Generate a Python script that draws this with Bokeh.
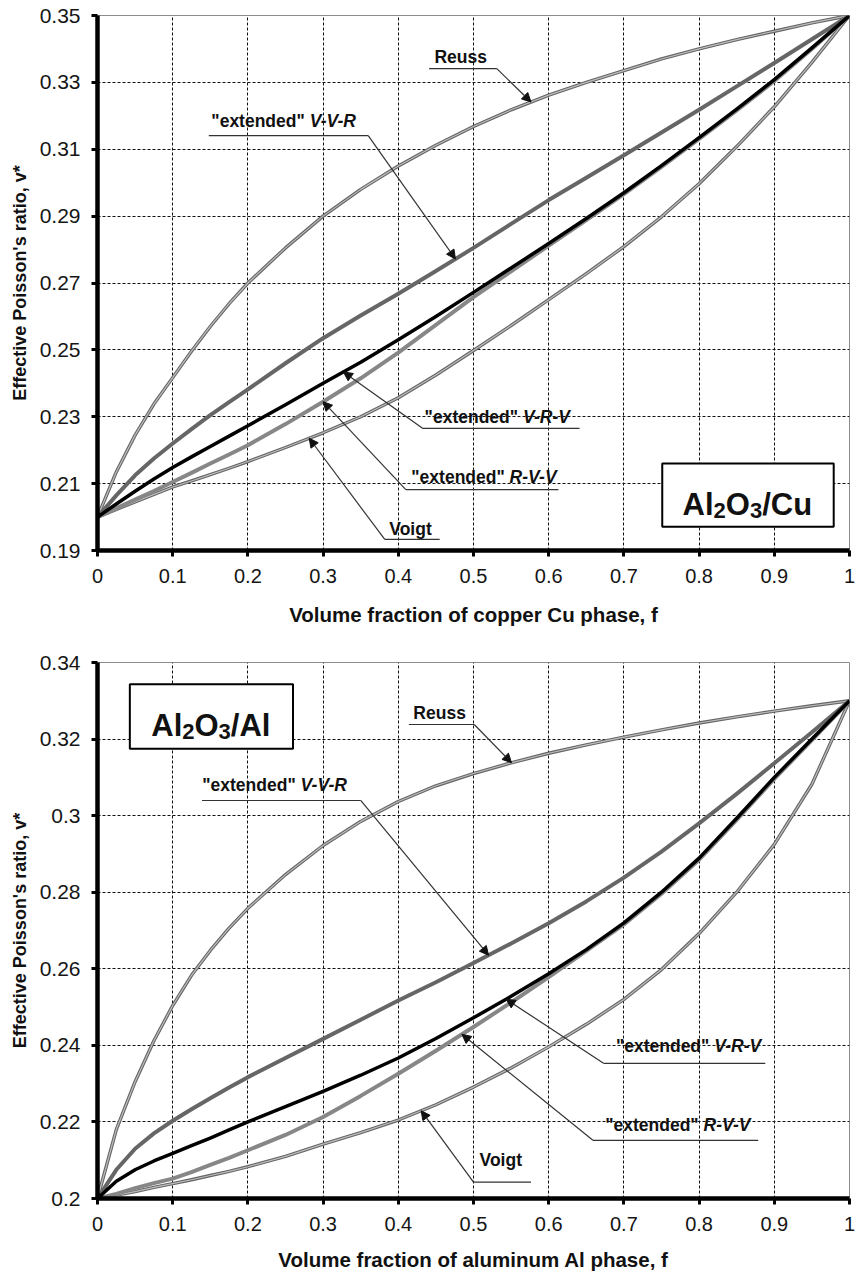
import numpy as np
from bokeh.plotting import figure
from bokeh.layouts import column
from bokeh.models import Label, Arrow, NormalHead, BoxAnnotation, FixedTicker, Range1d
from bokeh.embed import file_html
from bokeh.resources import INLINE

# ---------------- data ----------------
f = [0, 0.025, 0.05, 0.075, 0.1, 0.125, 0.15, 0.175, 0.2, 0.25, 0.3, 0.35, 0.4, 0.45, 0.5,
     0.55, 0.6, 0.65, 0.7, 0.75, 0.8, 0.85, 0.9, 0.95, 1.0]

# Al2O3/Cu
reuss_cu = [0.200, 0.2135, 0.2245, 0.2338, 0.2417, 0.2496, 0.2570, 0.2638, 0.2700, 0.2805, 0.2900, 0.2980,
            0.3050, 0.3112, 0.3168, 0.3218, 0.3262, 0.3300, 0.3335, 0.3370, 0.3400, 0.3428, 0.3453,
            0.3478, 0.3500]
vvr_cu = [0.200, 0.2065, 0.2125, 0.2175, 0.2220, 0.2263, 0.2305, 0.2344, 0.2382, 0.2460, 0.2535, 0.2603,
          0.2668, 0.2736, 0.2805, 0.2877, 0.2948, 0.3015, 0.3082, 0.3150, 0.3218, 0.3288, 0.3358,
          0.3429, 0.3500]
vrv_cu = [0.200, 0.2039, 0.2077, 0.2114, 0.2148, 0.2180, 0.2211, 0.2242, 0.2273, 0.2336, 0.2400, 0.2463,
          0.2530, 0.2600, 0.2672, 0.2745, 0.2818, 0.2893, 0.2970, 0.3051, 0.3135, 0.3220, 0.3308,
          0.3403, 0.3500]
rvv_cu = [0.200, 0.2026, 0.2052, 0.2078, 0.2105, 0.2132, 0.2160, 0.2187, 0.2215, 0.2278, 0.2345, 0.2415,
          0.2492, 0.2575, 0.2658, 0.2735, 0.2812, 0.2888, 0.2966, 0.3047, 0.3131, 0.3216, 0.3304,
          0.3400, 0.3500]
voigt_cu = [0.200, 0.2023, 0.2045, 0.2068, 0.2090, 0.2108, 0.2127, 0.2146, 0.2166, 0.2208, 0.2252, 0.2300,
            0.2357, 0.2425, 0.2498, 0.2573, 0.2650, 0.2728, 0.2809, 0.2898, 0.2997, 0.3108, 0.3227,
            0.3360, 0.3500]

# Al2O3/Al
reuss_al = [0.200, 0.2180, 0.2305, 0.2412, 0.2504, 0.2583, 0.2648, 0.2706, 0.2758, 0.2846, 0.2922, 0.2985,
            0.3037, 0.3078, 0.3110, 0.3138, 0.3163, 0.3185, 0.3205, 0.3224, 0.3242, 0.3258, 0.3273,
            0.3287, 0.3300]
vvr_al = [0.200, 0.2075, 0.2130, 0.2170, 0.2203, 0.2233, 0.2262, 0.2290, 0.2317, 0.2367, 0.2417, 0.2467,
          0.2517, 0.2565, 0.2615, 0.2666, 0.2719, 0.2776, 0.2838, 0.2906, 0.2980, 0.3057, 0.3137,
          0.3218, 0.3300]
vrv_al = [0.200, 0.2045, 0.2075, 0.2098, 0.2118, 0.2138, 0.2158, 0.2179, 0.2200, 0.2240, 0.2280, 0.2322,
          0.2367, 0.2418, 0.2472, 0.2528, 0.2587, 0.2650, 0.2720, 0.2800, 0.2889, 0.2993, 0.3100,
          0.3200, 0.3300]
rvv_al = [0.200, 0.2012, 0.2027, 0.2040, 0.2052, 0.2069, 0.2088, 0.2106, 0.2126, 0.2166, 0.2213, 0.2268,
          0.2326, 0.2386, 0.2448, 0.2512, 0.2578, 0.2647, 0.2716, 0.2796, 0.2885, 0.2989, 0.3096,
          0.3197, 0.3300]
voigt_al = [0.200, 0.2009, 0.2018, 0.2029, 0.2039, 0.2049, 0.2060, 0.2071, 0.2083, 0.2110, 0.2142, 0.2172,
            0.2205, 0.2245, 0.2291, 0.2341, 0.2396, 0.2455, 0.2520, 0.2598, 0.2692, 0.2800, 0.2925,
            0.3082, 0.3300]

x_tick_labels = ["0", "0.1", "0.2", "0.3", "0.4", "0.5", "0.6", "0.7", "0.8", "0.9", "1"]
y_tick_labels_cu = ["0.19", "0.21", "0.23", "0.25", "0.27", "0.29", "0.31", "0.33", "0.35"]
y_tick_labels_al = ["0.2", "0.22", "0.24", "0.26", "0.28", "0.3", "0.32", "0.34"]

x_title_cu = "Volume fraction of copper Cu phase, f"
x_title_al = "Volume fraction of aluminum Al phase, f"
y_title = "Effective Poisson's ratio, v*"

# ---------------- styling helpers ----------------
FONT = "Liberation Sans"
BOLD_W = {'"': 0.474, ' ': 0.278, 'e': 0.556, 'x': 0.556, 't': 0.333, 'n': 0.611, 'd': 0.611,
          'A': 0.722, 'l': 0.278, 'O': 0.778, '/': 0.278, 'C': 0.722, 'u': 0.611, '2': 0.556,
          '3': 0.556, 'V': 0.667, '-': 0.333, 'R': 0.722}


def text_w(s, size):
    return sum(BOLD_W.get(c, 0.556) for c in s) * size


def make_fig(h, top, bottom, right, y_labels, xtitle, xt_standoff):
    yt = [float(s) for s in y_labels]
    xt = [float(s) for s in x_tick_labels]
    p = figure(width=856, height=h, x_range=Range1d(0, 1), y_range=Range1d(yt[0], yt[-1]),
               output_backend="svg", toolbar_location=None,
               min_border_left=97, min_border_right=right, min_border_top=top, min_border_bottom=bottom)
    p.background_fill_color = "white"
    p.border_fill_color = "white"
    p.outline_line_color = "#8c8c8c"
    p.outline_line_width = 1
    p.xaxis.ticker = FixedTicker(ticks=xt)
    p.xaxis.major_label_overrides = {v: s for v, s in zip(xt, x_tick_labels)}
    p.yaxis.ticker = FixedTicker(ticks=yt)
    p.yaxis.major_label_overrides = {v: s for v, s in zip(yt, y_labels)}
    p.xgrid.ticker = FixedTicker(ticks=xt)
    p.ygrid.ticker = FixedTicker(ticks=yt)
    for g in (p.xgrid, p.ygrid):
        g.grid_line_color = "#111111"
        g.grid_line_dash = "3 2"
        g.grid_line_width = 1
    for ax in (p.xaxis, p.yaxis):
        ax.axis_line_width = 4.5
        ax.axis_line_color = "black"
        ax.major_tick_line_width = 3
        ax.major_tick_line_color = "black"
        ax.major_tick_out = 6
        ax.major_tick_in = 0
        ax.minor_tick_line_color = None
        ax.major_label_text_font = FONT
        ax.major_label_text_color = "#151515"
        ax.axis_label_text_font = FONT
        ax.axis_label_text_font_style = "bold"
        ax.axis_label_text_color = "#111111"
    p.xaxis.major_label_text_font_size = "20px"
    p.xaxis.major_label_standoff = 12
    p.yaxis.major_label_text_font_size = "21px"
    p.yaxis.major_label_standoff = 11
    p.xaxis.axis_label = xtitle
    p.xaxis.axis_label_text_font_size = "20.5px"
    p.xaxis.axis_label_standoff = xt_standoff
    p.yaxis.axis_label = y_title
    p.yaxis.axis_label_text_font_size = "18px"
    p.yaxis.axis_label_standoff = 7
    return p


def draw_curves(p, reuss, vvr, vrv, rvv, voigt):
    for s in (voigt, reuss):
        p.line(f, s, line_color="#666666", line_width=3.4, line_join="round")
        p.line(f, s, line_color="#bdbdbd", line_width=1.2, line_join="round")
    p.line(f, vvr, line_color="#666666", line_width=4, line_join="round")
    p.line(f, rvv, line_color="#878787", line_width=4, line_join="round")
    p.line(f, vrv, line_color="black", line_width=3.5, line_join="round")


def label(p, x, y, text, size, style="bold", x_off=0, y_off=0):
    p.add_layout(Label(x=x, y=y, text=text, x_offset=x_off, y_offset=y_off,
                       text_font=FONT, text_font_style=style, text_font_size=f"{size}px",
                       text_color="#111111", text_baseline="alphabetic", text_align="left"))


def notes(p, specs):
    for plain, ital, tx, ty, f0, f1, ny, side, tip_f, series in specs:
        label(p, tx, ty, plain, 17.5)
        if ital:
            label(p, tx, ty, ital, 17.5, style="bold italic", x_off=text_w(plain, 17.5))
        p.add_layout(Arrow(end=None, x_start=f0, y_start=ny, x_end=f1, y_end=ny,
                           line_color="#333333", line_width=1.2))
        cx = f1 if side == "r" else f0
        tip_y = float(np.interp(tip_f, f, series))
        p.add_layout(Arrow(end=NormalHead(size=9, fill_color="#111111", line_color="#111111", line_width=1),
                           x_start=cx, y_start=ny, x_end=tip_f, y_end=tip_y,
                           line_color="#333333", line_width=1.2))


def box_title(p, left, right, bottom, top, x0, base, parts):
    p.add_layout(BoxAnnotation(left=left, right=right, bottom=bottom, top=top,
                               fill_color="white", fill_alpha=1.0,
                               line_color="black", line_alpha=1.0, line_width=2))
    off = 0.0
    for txt, sub in parts:
        size = 22 if sub else 31
        label(p, x0, base, txt, size, x_off=off, y_off=(-6 if sub else 0))
        off += text_w(txt, size)


# ---------------- top chart: Al2O3/Cu ----------------
p1 = make_fig(640, 15, 90, 0, y_tick_labels_cu, x_title_cu, 17)
draw_curves(p1, reuss_cu, vvr_cu, vrv_cu, rvv_cu, voigt_cu)
notes(p1, [
    ("Reuss", "", 0.448, 0.3377, 0.441, 0.531, 0.3341, "r", 0.5765, reuss_cu),
    ('"extended" ', "V-V-R", 0.1514, 0.3184, 0.148, 0.360, 0.3141, "r", 0.476, vvr_cu),
    ('"extended" ', "V-R-V", 0.435, 0.2298, 0.4327, 0.641, 0.2265, "l", 0.327, vrv_cu),
    ('"extended" ', "R-V-V", 0.4173, 0.2121, 0.410, 0.613, 0.2082, "l", 0.300, rvv_cu),
    ("Voigt", "", 0.388, 0.1965, 0.382, 0.455, 0.1933, "l", 0.2815, voigt_cu),
])
box_title(p1, 0.751, 0.979, 0.1971, 0.216, 0.778, 0.2039,
          [("Al", False), ("2", True), ("O", False), ("3", True), ("/Cu", False)])

# ---------------- bottom chart: Al2O3/Al ----------------
p2 = make_fig(635, 22, 77, 7, y_tick_labels_al, x_title_al, 14)
draw_curves(p2, reuss_al, vvr_al, vrv_al, rvv_al, voigt_al)
notes(p2, [
    ("Reuss", "", 0.42, 0.3268, 0.414, 0.501, 0.3238, "r", 0.5505, reuss_al),
    ('"extended" ', "V-V-R", 0.1393, 0.3079, 0.139, 0.350, 0.30396, "r", 0.52, vvr_al),
    ('"extended" ', "V-R-V", 0.6894, 0.2398, 0.6729, 0.888, 0.2353, "l", 0.5434, vrv_al),
    ('"extended" ', "R-V-V", 0.6752, 0.2191, 0.6588, 0.8786, 0.2152, "l", 0.4846, rvv_al),
    ("Voigt", "", 0.508, 0.2101, 0.500, 0.5764, 0.2043, "l", 0.4304, voigt_al),
])
box_title(p2, 0.043, 0.260, 0.3175, 0.3343, 0.0715, 0.32355,
          [("Al", False), ("2", True), ("O", False), ("3", True), ("/Al", False)])

layout = column(p1, p2, spacing=0)
open("out.html", "w").write(file_html(layout, INLINE))
